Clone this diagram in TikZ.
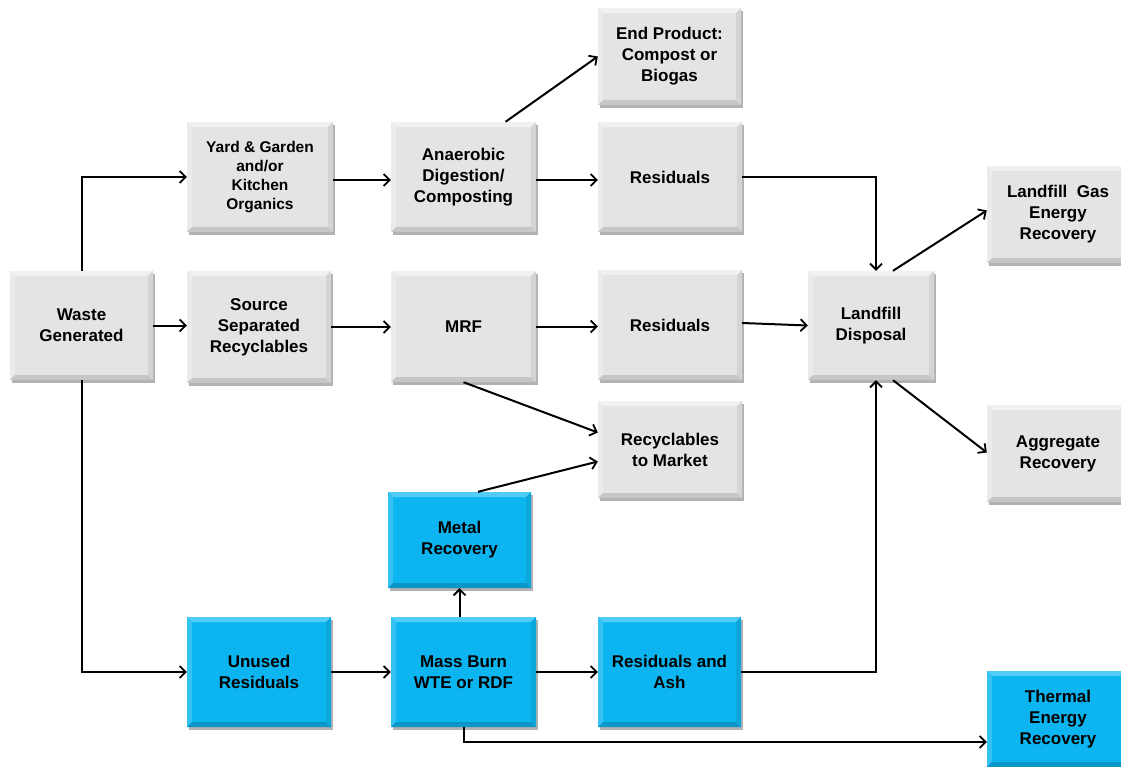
\documentclass[tikz,border=0pt]{standalone}
\usepackage{fontspec}
\setmainfont{Liberation Sans}
\usetikzlibrary{arrows.meta,shadows}

\definecolor{gfill}{HTML}{E4E4E4}
\definecolor{gtop}{HTML}{F1F1F1}
\definecolor{gleft}{HTML}{EBEBEB}
\definecolor{gbot}{HTML}{C6C6C6}
\definecolor{gright}{HTML}{D4D4D4}
\definecolor{bfill}{HTML}{0CB4F0}
\definecolor{btop}{HTML}{50CCF5}
\definecolor{bleft}{HTML}{34C2F3}
\definecolor{bbot}{HTML}{0996C8}
\definecolor{bright}{HTML}{0AA6DC}

% bevelled edges drawn inside a box
\newcommand\bevelpic[4]{%
  \fill[#1] (path picture bounding box.north west) -- (path picture bounding box.north east)
    -- ([shift={(-5pt,-5pt)}]path picture bounding box.north east)
    -- ([shift={(5pt,-5pt)}]path picture bounding box.north west) -- cycle;
  \fill[#2] (path picture bounding box.north west) -- (path picture bounding box.south west)
    -- ([shift={(5pt,5pt)}]path picture bounding box.south west)
    -- ([shift={(5pt,-5pt)}]path picture bounding box.north west) -- cycle;
  \fill[#3] (path picture bounding box.south west) -- (path picture bounding box.south east)
    -- ([shift={(-5pt,5pt)}]path picture bounding box.south east)
    -- ([shift={(5pt,5pt)}]path picture bounding box.south west) -- cycle;
  \fill[#4] (path picture bounding box.north east) -- (path picture bounding box.south east)
    -- ([shift={(-5pt,5pt)}]path picture bounding box.south east)
    -- ([shift={(-5pt,-5pt)}]path picture bounding box.north east) -- cycle;
}

\tikzset{
  box/.style={inner sep=0pt, align=center,
    font=\fontsize{17}{21}\selectfont\bfseries,
    drop shadow={shadow xshift=2pt, shadow yshift=-3pt, opacity=0.3, fill=black}},
  graybox/.style={box, fill=gfill, path picture={\bevelpic{gtop}{gleft}{gbot}{gright}}},
  bluebox/.style={box, fill=bfill, path picture={\bevelpic{btop}{bleft}{bbot}{bright}}},
  flow/.style={line width=2pt, -{Straight Barb[length=6pt,width=12pt,line width=1.8pt]}},
}

\begin{document}
\begin{tikzpicture}[x=1pt,y=-1pt]
\useasboundingbox[fill=white] (0,0) rectangle (1121,767);

% first column
\node[graybox, minimum width=143pt, minimum height=109pt] (waste) at (81.5,325.5) {Waste\\Generated};

% second column
\node[graybox, minimum width=146pt, minimum height=110pt, font=\fontsize{15.5}{19}\selectfont\bfseries] (yard) at (260,177) {Yard \& Garden\\and/or\\Kitchen\\Organics};
\node[graybox, minimum width=144pt, minimum height=112pt] (src) at (259,327) {Source\\Separated\\Recyclables};
\node[bluebox, minimum width=144pt, minimum height=110pt] (unused) at (259,672) {Unused\\Residuals};

% third column
\node[graybox, minimum width=145pt, minimum height=110pt] (anaer) at (463.5,177) {Anaerobic\\Digestion/\\Composting};
\node[graybox, minimum width=145pt, minimum height=111pt] (mrf) at (463.5,326.5) {MRF};
\node[bluebox, minimum width=143pt, minimum height=96pt] (metal) at (459.5,540) {Metal\\Recovery};
\node[bluebox, minimum width=145pt, minimum height=110pt] (mass) at (463.5,672) {Mass Burn\\WTE or RDF};

% fourth column
\node[graybox, minimum width=143pt, minimum height=97pt] (endp) at (669.5,56.5) {End Product:\\Compost or\\Biogas};
\node[graybox, minimum width=144pt, minimum height=110pt] (res1) at (670,177) {Residuals};
\node[graybox, minimum width=144pt, minimum height=110pt] (res2) at (670,325) {Residuals};
\node[graybox, minimum width=144pt, minimum height=97pt] (rtm) at (670,449.5) {Recyclables\\to Market};
\node[bluebox, minimum width=143pt, minimum height=110pt] (resash) at (669.5,672) {Residuals and\\Ash};

% landfill and recovery
\node[graybox, minimum width=126pt, minimum height=109pt] (landfill) at (871,325.5) {Landfill\\Disposal};
\node[graybox, minimum width=142pt, minimum height=97pt] (lgas) at (1058,214.5) {Landfill\ \ Gas\\Energy\\Recovery};
\node[graybox, minimum width=142pt, minimum height=97pt] (aggr) at (1058,453.5) {Aggregate\\Recovery};
\node[bluebox, minimum width=142pt, minimum height=96pt] (thermal) at (1058,719) {Thermal\\Energy\\Recovery};

% connectors
\draw[flow] (waste.north) |- (yard.west);
\draw[flow] (waste.east) -- (waste.east -| src.west);
\draw[flow] (waste.south) |- (unused.west);

\draw[flow] ([yshift=-3pt]yard.east) -- ([yshift=-3pt]anaer.west);
\draw[flow] ([yshift=-3pt]anaer.east) -- ([yshift=-3pt]res1.west);
\draw[flow] ([xshift=42pt]anaer.north) -- (endp.west);
\draw[flow] (res1.east) -| ([xshift=5pt]landfill.north);

\draw[flow] (src.east) -- (src.east -| mrf.west);
\draw[flow] (mrf.east) -- (mrf.east -| res2.west);
\draw[flow] ([yshift=2pt]res2.east) -- (landfill.west);
\draw[flow] (mrf.south) -- ([yshift=17pt]rtm.west);
\draw[flow] ([xshift=18.5pt]metal.north) -- ([yshift=-12pt]rtm.west);

\draw[flow] (unused.east) -- (unused.east -| mass.west);
\draw[flow] (mass.north -| metal.south) -- (metal.south);
\draw[flow] (mass.east) -- (mass.east -| resash.west);
\draw[flow] (resash.east) -| ([xshift=5pt]landfill.south);
\draw[flow] (mass.south) |- ([yshift=-23pt]thermal.west);

\draw[flow] ([xshift=22pt]landfill.north) -- ([yshift=4pt]lgas.west);
\draw[flow] ([xshift=22pt]landfill.south) -- ([yshift=1pt]aggr.west);
\end{tikzpicture}
\end{document}
